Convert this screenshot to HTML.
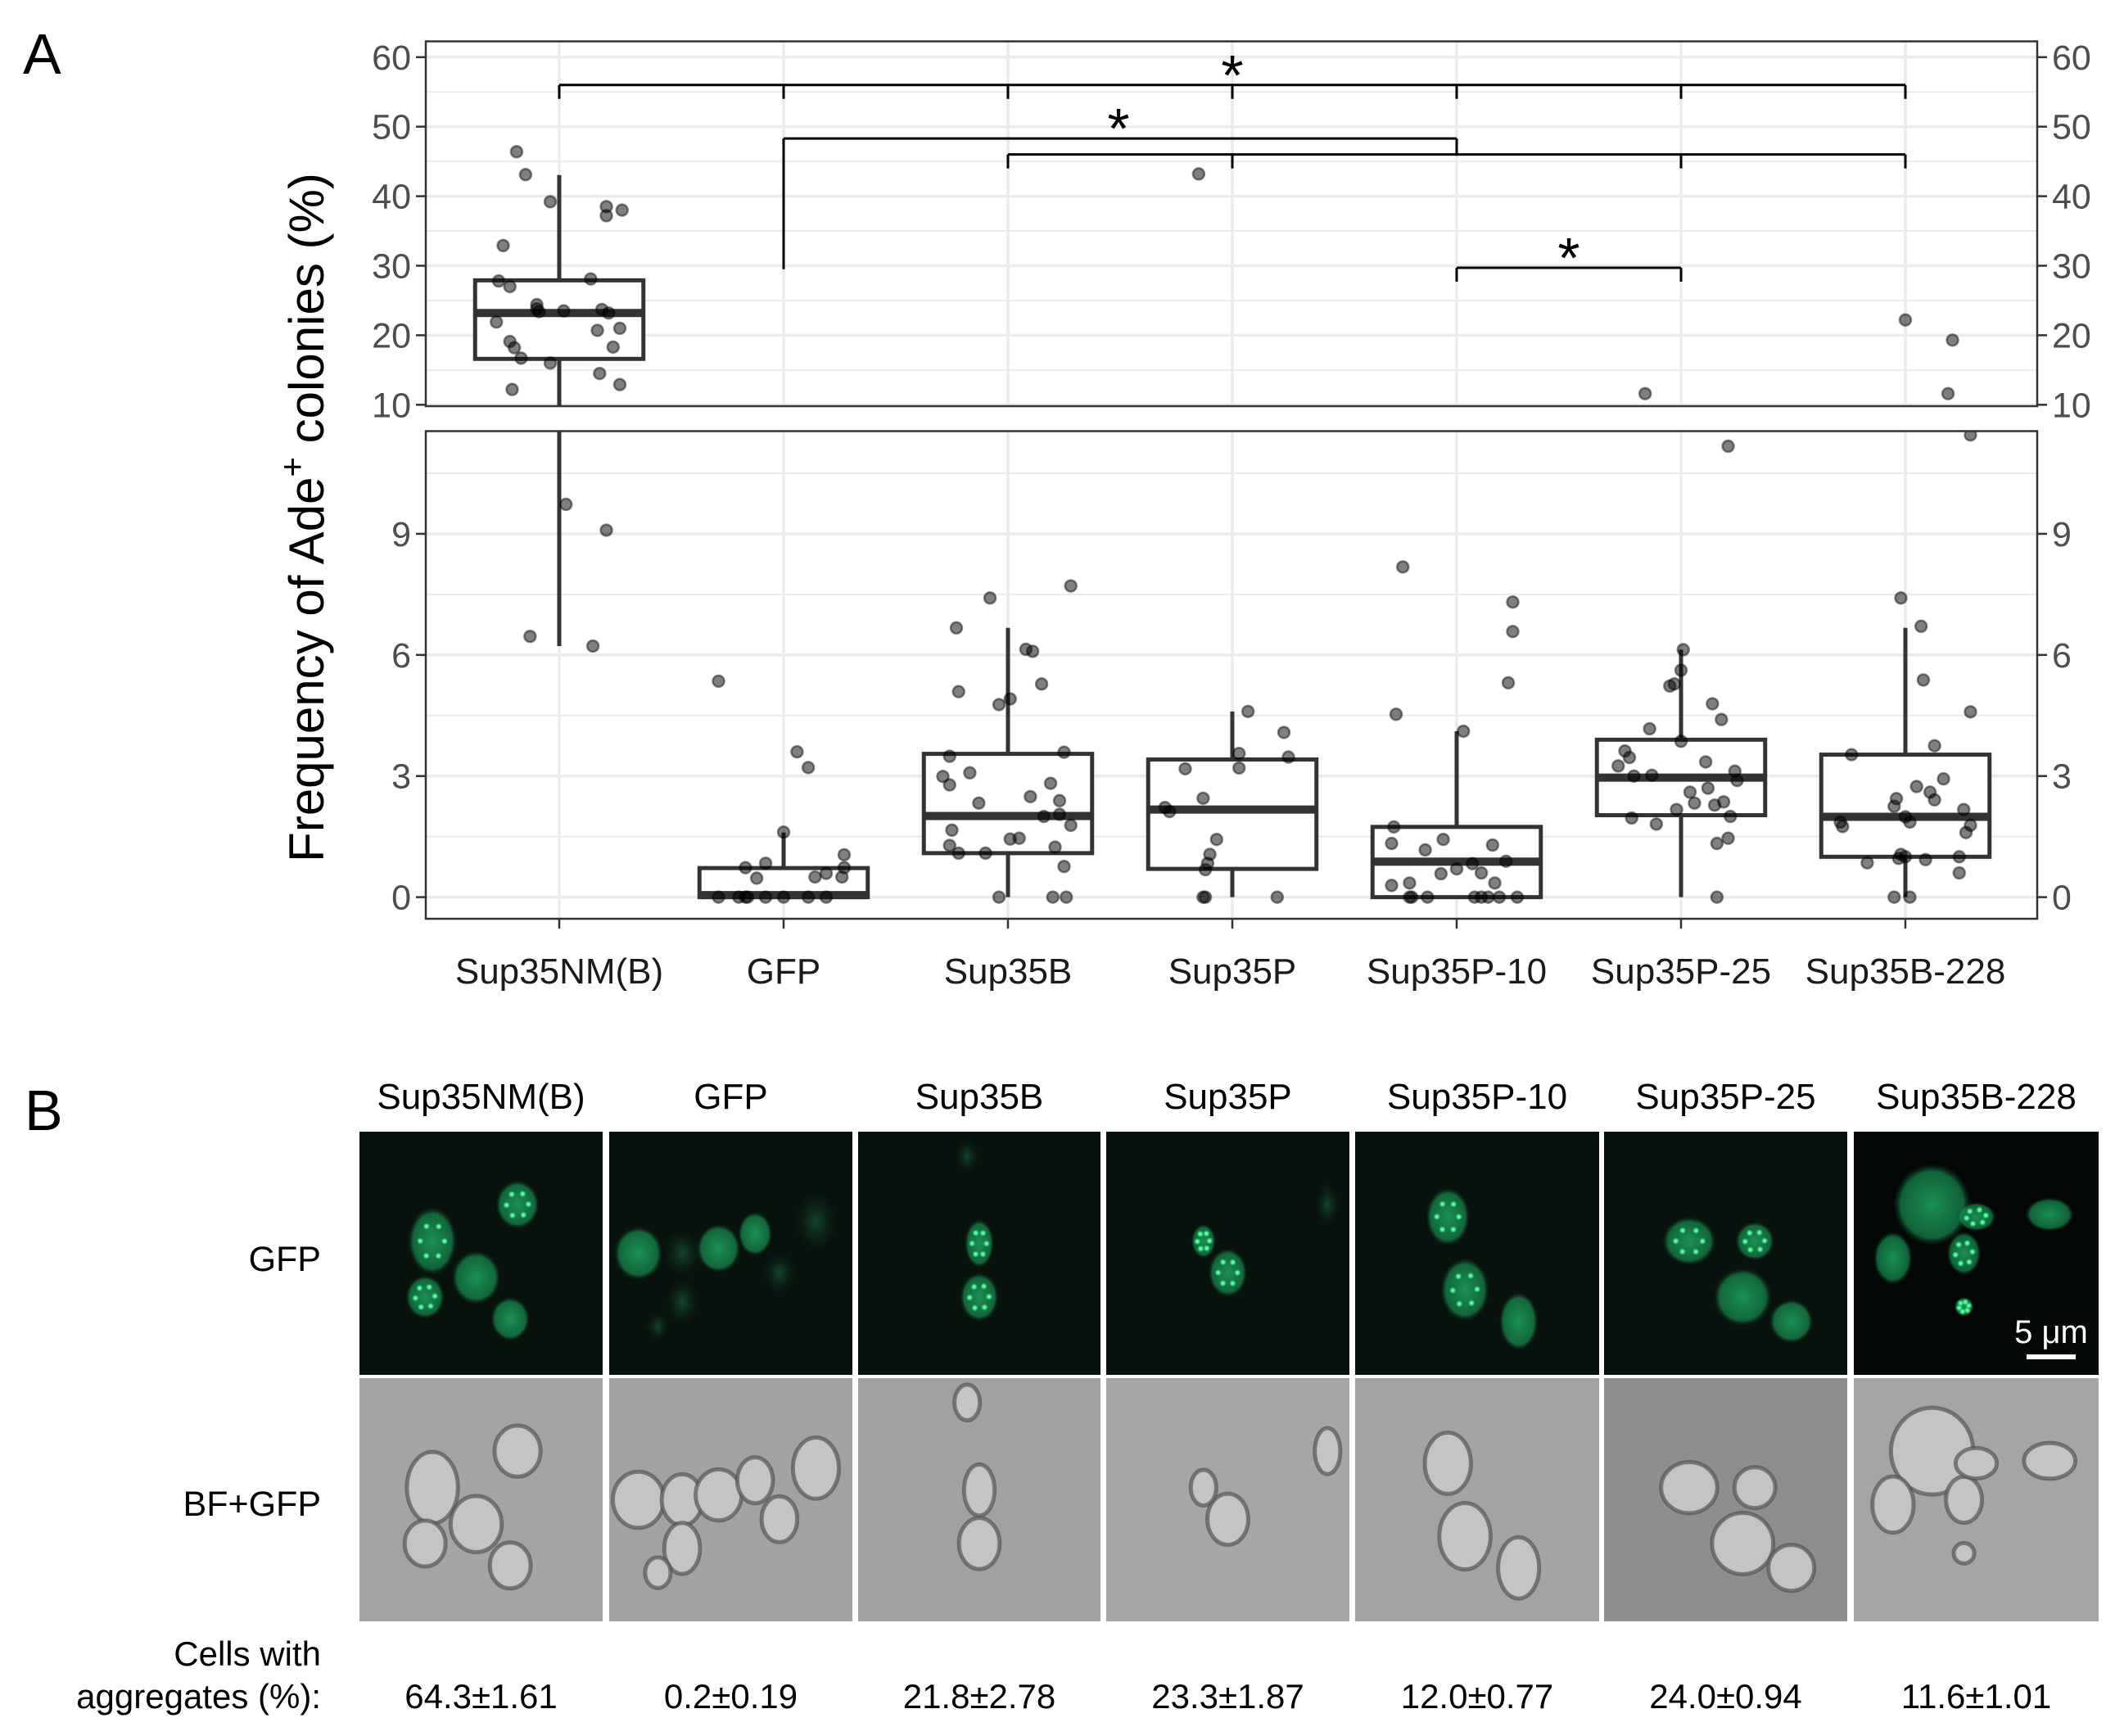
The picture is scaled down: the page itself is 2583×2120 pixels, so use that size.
<!DOCTYPE html>
<html><head><meta charset="utf-8"><title>Ade+ frequency and aggregates</title>
<style>
html,body{margin:0;padding:0;background:#fff;}
svg{display:block;font-family:"Liberation Sans",Arial,sans-serif;}
</style></head>
<body>
<svg id="fig" width="2583" height="2120" viewBox="0 0 2583 2120" xmlns="http://www.w3.org/2000/svg">
<defs>
<clipPath id="clipTop"><rect x="520" y="50.5" width="1968" height="445.5"/></clipPath>
<clipPath id="clipBot"><rect x="520" y="526.5" width="1968" height="595.5"/></clipPath>
<radialGradient id="gfpCell" cx="50%" cy="50%" r="50%"><stop offset="0" stop-color="#1fa862" stop-opacity="0.85"/><stop offset="0.8" stop-color="#178a4c" stop-opacity="0.7"/><stop offset="1" stop-color="#0b3a22" stop-opacity="0"/></radialGradient>
<radialGradient id="gfpDim" cx="50%" cy="50%" r="50%"><stop offset="0" stop-color="#175c38" stop-opacity="0.7"/><stop offset="1" stop-color="#0b2a1a" stop-opacity="0"/></radialGradient>
<radialGradient id="gfpDot" cx="50%" cy="50%" r="50%"><stop offset="0" stop-color="#8dffc0"/><stop offset="0.5" stop-color="#3fe08a"/><stop offset="1" stop-color="#1a9a55" stop-opacity="0"/></radialGradient>
</defs>
<text x="28" y="90" font-size="70" fill="#000">A</text>
<text x="30" y="1380" font-size="70" fill="#000">B</text>
<g id="chart"></g>
<g id="micro"></g>
</svg>
<script>
// ---------- chart data ----------
const categories = ["Sup35NM(B)","GFP","Sup35B","Sup35P","Sup35P-10","Sup35P-25","Sup35B-228"];
const topTicks = [10,20,30,40,50,60];
const bottomTicks = [0,3,6,9];
// box stats: [lowerWhisker, q1, median, q3, upperWhisker]
const boxNM   = [6.22,16.6,23.2,27.9,43.05];
const boxGFP  = [0,0,0.05,0.72,1.6];
const boxB    = [0,1.09,2.01,3.55,6.67];
const boxP    = [0,0.7,2.17,3.41,4.6];
const boxP10  = [0,0,0.88,1.74,4.11];
const boxP25  = [0,2.03,2.96,3.9,6.13];
const boxB228 = [0,1.0,1.99,3.53,6.67];
// points: values and jitter (category-width fraction)
const valNM = [46.4,43.1,39.2,38.5,37.2,38.0,32.9,27.8,27.0,28.1,24.4,23.8,23.4,23.5,23.7,23.2,21.9,20.7,21.0,19.1,18.2,16.7,16.0,18.3,14.5,12.9,12.2,9.73,9.09,6.46,6.22];
const jitNM = [-0.19,-0.15,-0.04,0.21,0.21,0.28,-0.25,-0.27,-0.22,0.14,-0.10,-0.10,-0.09,0.02,0.19,0.22,-0.28,0.17,0.27,-0.22,-0.2,-0.17,-0.04,0.24,0.18,0.27,-0.21,0.03,0.21,-0.13,0.15];
const valGFP = [5.35,3.6,3.21,1.61,0.73,0.84,0.47,1.05,0.73,0.59,0.5,0.5,0,0,0,0,0,0,0,0];
const jitGFP = [-0.29,0.06,0.11,0,-0.17,-0.08,-0.12,0.27,0.27,0.19,0.14,0.26,-0.29,-0.2,-0.17,-0.16,-0.08,0,0.11,0.19];
const valB = [7.41,6.67,7.71,6.14,6.09,5.28,5.09,4.91,4.77,3.49,3.59,2.99,3.08,2.78,2.82,2.49,2.39,2.33,2.0,2.05,1.78,1.66,1.44,1.46,1.28,1.09,1.09,1.24,0.76,0,0,0];
const jitB = [-0.08,-0.23,0.28,0.08,0.11,0.15,-0.22,0.01,-0.04,-0.26,0.25,-0.29,-0.17,-0.26,0.19,0.1,0.23,-0.13,0.16,0.23,0.28,-0.25,0.01,0.05,-0.26,-0.22,-0.1,0.21,0.25,-0.04,0.2,0.26];
const valP = [43.2,4.6,4.08,3.56,3.47,3.18,3.2,2.45,2.22,2.12,1.43,1.06,0.84,0.68,0,0,0];
const jitP = [-0.15,0.07,0.23,0.03,0.25,-0.21,0.03,-0.13,-0.3,-0.28,-0.07,-0.1,-0.11,-0.12,-0.13,-0.12,0.2];
const valP10 = [8.18,7.31,6.58,5.31,4.53,4.11,1.74,1.33,1.17,1.43,1.29,0.89,0.83,0.7,0.58,0.6,0.35,0.35,0.29,0,0,0,0,0,0,0,0];
const jitP10 = [-0.24,0.25,0.25,0.23,-0.27,0.03,-0.28,-0.29,-0.14,-0.06,0.16,0.22,0.07,0,-0.07,0.11,0.17,-0.21,-0.29,-0.21,-0.2,-0.13,0.08,0.11,0.14,0.19,0.27];
const valP25 = [11.6,11.17,6.13,5.62,5.23,5.28,4.79,4.4,4.17,3.86,3.62,3.46,3.25,3.35,3.12,3.0,3.02,2.89,2.6,2.7,2.33,2.28,2.36,2.17,2.0,1.96,1.81,1.46,1.33,0];
const jitP25 = [-0.16,0.21,0.01,0,-0.05,-0.03,0.14,0.18,-0.14,0,-0.25,-0.23,-0.28,0.11,0.24,-0.21,-0.13,0.25,0.04,0.12,0.06,0.15,0.19,-0.02,0.22,-0.22,-0.11,0.21,0.16,0.16];
const valB228 = [22.2,19.3,11.6,11.45,7.41,6.71,5.38,4.59,3.75,3.53,2.93,2.74,2.6,2.41,2.44,2.25,2.17,1.99,1.86,1.86,1.75,1.78,1.6,1.06,1.0,0.96,0.85,0.93,1.0,0.6,0,0];
const jitB228 = [0,0.21,0.19,0.29,-0.02,0.07,0.08,0.29,0.13,-0.24,0.17,0.05,0.11,0.13,-0.04,-0.05,0.26,0,0.02,-0.29,-0.28,0.29,0.27,-0.02,0,-0.03,-0.17,0.09,0.24,0.24,-0.05,0.02];
// significance brackets: [fromIndex, toIndex, barValue]
const sigBars = [[0,6,56],[1,4,48.3],[2,6,46],[4,5,29.7]];
const aggLabels = ["64.3±1.61","0.2±0.19","21.8±2.78","23.3±1.87","12.0±0.77","24.0±0.94","11.6±1.01"];

// ---------- scales ----------
const NS = "http://www.w3.org/2000/svg";
const X0 = 683, STEP = 274, LEFT = 520, RIGHT = 2488;
const BREAK = 11.55;
function xScale(i){ return X0 + STEP*i; }
function yTop(v){ return 494.3 - (v-10)*8.49; }
function yBot(v){ return 1095.6 - v*49.3; }
function el(tag, attrs, parent){ const e=document.createElementNS(NS,tag); for(const k in attrs) e.setAttribute(k,attrs[k]); parent.appendChild(e); return e; }

const chart = document.getElementById('chart');
const panels = [
  {y0:50.5,y1:496,ys:yTop,clip:'clipTop',major:topTicks,minor:[15,25,35,45,55],name:'top-panel',isTop:true},
  {y0:526.5,y1:1122,ys:yBot,clip:'clipBot',major:bottomTicks,minor:[1.5,4.5,7.5,10.5],name:'bottom-panel',isTop:false}
];
const boxes=[boxNM,boxGFP,boxB,boxP,boxP10,boxP25,boxB228];
const vals=[valNM,valGFP,valB,valP,valP10,valP25,valB228];
const jits=[jitNM,jitGFP,jitB,jitP,jitP10,jitP25,jitB228];

panels.forEach(function(p){
  const g = el('g',{'clip-path':'url(#'+p.clip+')'},chart);
  
  
  p.minor.forEach(function(v){ const l=el('line',{x1:LEFT,x2:RIGHT,y1:p.ys(v),y2:p.ys(v),stroke:'#ebebeb','stroke-width':2},g);
      });
  p.major.forEach(function(v){ const l=el('line',{x1:LEFT,x2:RIGHT,y1:p.ys(v),y2:p.ys(v),stroke:'#ebebeb','stroke-width':3.5},g);
      });
  categories.forEach(function(c,i){ const l=el('line',{x1:xScale(i),x2:xScale(i),y1:p.y0,y2:p.y1,stroke:'#ebebeb','stroke-width':3.5},g);
      });
  boxes.forEach(function(b,i){
    const cx=xScale(i), hw=STEP*0.375;
    const bg=el('g',{},g);
    
    
    el('line',{x1:cx,x2:cx,y1:p.ys(b[3]),y2:p.ys(b[4]),stroke:'#333','stroke-width':5},bg);
    el('line',{x1:cx,x2:cx,y1:p.ys(b[1]),y2:p.ys(b[0]),stroke:'#333','stroke-width':5},bg);
    el('rect',{x:cx-hw,y:p.ys(b[3]),width:2*hw,height:Math.max(0,p.ys(b[1])-p.ys(b[3])),fill:'#fff',stroke:'#333','stroke-width':5},bg);
    el('line',{x1:cx-hw,x2:cx+hw,y1:p.ys(b[2]),y2:p.ys(b[2]),stroke:'#333','stroke-width':10},bg);
  });
  vals.forEach(function(vs,i){
    vs.forEach(function(v,k){
      if(p.isTop && v < BREAK) return;
      if(!p.isTop && v >= BREAK) return;
      const c=el('circle',{cx:xScale(i)+jits[i][k]*STEP,cy:p.ys(v),r:7,fill:'rgba(0,0,0,0.5)',stroke:'rgba(0,0,0,0.45)','stroke-width':2.5},g);
      
      
    });
  });
  const br=el('rect',{x:LEFT,y:p.y0,width:RIGHT-LEFT,height:p.y1-p.y0,fill:'none',stroke:'#333','stroke-width':2.5},chart);
  
  
  p.major.forEach(function(v){
    const y=p.ys(v);
    el('line',{x1:LEFT-12,x2:LEFT,y1:y,y2:y,stroke:'#333','stroke-width':2.5},chart);
    el('line',{x1:RIGHT,x2:RIGHT+12,y1:y,y2:y,stroke:'#333','stroke-width':2.5},chart);
    const t1=el('text',{x:LEFT-18,y:y+15,'text-anchor':'end','font-size':43,fill:'#4d4d4d'},chart); t1.textContent=v;
     
    const t2=el('text',{x:RIGHT+18,y:y+15,'text-anchor':'start','font-size':43,fill:'#4d4d4d'},chart); t2.textContent=v;
     
  });
});
categories.forEach(function(c,i){
  el('line',{x1:xScale(i),x2:xScale(i),y1:1122,y2:1134,stroke:'#333','stroke-width':2.5},chart);
  const t=el('text',{x:xScale(i),y:1201,'text-anchor':'middle','font-size':44,fill:'#1a1a1a'},chart); t.textContent=c;
   
});
const yt=el('text',{x:0,y:0,transform:'translate(395,632) rotate(-90)','text-anchor':'middle','font-size':60,fill:'#000'},chart);
 
yt.innerHTML='Frequency of Ade<tspan dy="-24" font-size="42">+</tspan><tspan dy="24"> colonies (%)</tspan>';
const sg=el('g',{stroke:'#000','stroke-width':3,fill:'none'},chart);
 
sigBars.forEach(function(s){
  const y=yTop(s[2]);
  el('line',{x1:xScale(s[0]),x2:xScale(s[1]),y1:y,y2:y},sg);
});
for(let i=0;i<=6;i++){ el('line',{x1:xScale(i),x2:xScale(i),y1:yTop(56),y2:yTop(54)},sg); }
el('line',{x1:xScale(1),x2:xScale(1),y1:yTop(48.3),y2:yTop(29.5)},sg);
el('line',{x1:xScale(4),x2:xScale(4),y1:yTop(48.3),y2:yTop(46)},sg);
[2,3,5,6].forEach(function(i){ el('line',{x1:xScale(i),x2:xScale(i),y1:yTop(46),y2:yTop(44)},sg); });
el('line',{x1:xScale(4),x2:xScale(4),y1:yTop(29.7),y2:yTop(27.7)},sg);
el('line',{x1:xScale(5),x2:xScale(5),y1:yTop(29.7),y2:yTop(27.7)},sg);
[[xScale(3),56],[1366,48.3],[(xScale(4)+xScale(5))/2,29.7]].forEach(function(s){
  const t=el('text',{x:s[0],y:yTop(s[1])+12,'text-anchor':'middle','font-size':70,fill:'#000'},chart); t.textContent='*';
   
});

// ---------- Panel B ----------
const micro=document.getElementById('micro');
const colX=[439,744,1048,1351,1655,1959,2264];
const colW=[297,297,296,297,298,297,299];
const R1=1382,R2=1683,H=297;
const colCenters=colX.map(function(x,i){return x+colW[i]/2;});
categories.forEach(function(c,i){
  const t=el('text',{x:colCenters[i],y:1354,'text-anchor':'middle','font-size':44,fill:'#000'},micro); t.textContent=c;
   
  const v=el('text',{x:colCenters[i],y:2086,'text-anchor':'middle','font-size':42,fill:'#000'},micro); v.textContent=aggLabels[i];
   
});
[['GFP',R1+170],['BF+GFP',R2+168]].forEach(function(r){
  const t=el('text',{x:392,y:r[1],'text-anchor':'end','font-size':43,fill:'#000'},micro); t.textContent=r[0];
   
});
const c1=el('text',{x:392,y:2034,'text-anchor':'end','font-size':42,fill:'#000'},micro); c1.textContent='Cells with';
 
const c2=el('text',{x:392,y:2086,'text-anchor':'end','font-size':42,fill:'#000'},micro); c2.textContent='aggregates (%):';
 

const cellSets=[
 [[0.3,0.45,0.1,0.14,2],[0.65,0.3,0.09,0.1,2],[0.27,0.68,0.08,0.09,2],[0.48,0.6,0.1,0.11,0],[0.62,0.77,0.08,0.09,0]],
 [[0.12,0.5,0.1,0.11,0],[0.3,0.5,0.08,0.1,1],[0.45,0.48,0.09,0.1,0],[0.6,0.42,0.07,0.09,0],[0.85,0.37,0.09,0.12,1],[0.3,0.7,0.07,0.1,1],[0.7,0.58,0.07,0.09,1],[0.2,0.8,0.05,0.06,1]],
 [[0.5,0.46,0.06,0.1,2],[0.5,0.68,0.08,0.1,2],[0.45,0.1,0.05,0.07,1]],
 [[0.5,0.58,0.08,0.1,2],[0.4,0.45,0.05,0.07,2],[0.91,0.3,0.05,0.09,1]],
 [[0.38,0.35,0.09,0.12,2],[0.45,0.65,0.1,0.13,2],[0.67,0.78,0.08,0.12,0]],
 [[0.35,0.45,0.11,0.1,2],[0.62,0.45,0.08,0.08,2],[0.57,0.68,0.12,0.12,0],[0.77,0.78,0.09,0.09,0]],
 [[0.32,0.3,0.16,0.17,0],[0.8,0.34,0.1,0.07,0],[0.16,0.52,0.08,0.11,0],[0.45,0.5,0.07,0.09,2],[0.5,0.35,0.08,0.06,2],[0.45,0.72,0.04,0.04,2]]
];
const bfBg=['#a4a4a4','#a2a2a2','#a1a1a1','#a6a6a6','#a3a3a3','#8e8e8e','#a5a5a5'];
colX.forEach(function(x,i){
  const w=colW[i];
  const g1=el('g',{},micro);
   
  el('rect',{x:x,y:R1,width:w,height:H,fill: i===6?'#030706':'#09130e'},g1);
  const g2=el('g',{},micro);
   
  el('rect',{x:x,y:R2,width:w,height:H,fill:bfBg[i]},g2);
  cellSets[i].forEach(function(c,k){
    const cx=x+c[0]*w, cy=R1+c[1]*H, rx=c[2]*w, ry=c[3]*H;
    el('ellipse',{cx:cx,cy:cy,rx:rx,ry:ry,fill: c[4]===1?'url(#gfpDim)':'url(#gfpCell)'},g1);
    if(c[4]===2){
      for(let d=0; d<6; d++){
        const a=d*1.05+k;
        el('circle',{cx:cx+Math.cos(a)*rx*0.5,cy:cy+Math.sin(a)*ry*0.5,r:4.5,fill:'url(#gfpDot)'},g1);
      }
    }
    const by=R2+c[1]*H;
    el('ellipse',{cx:cx,cy:by,rx:rx*1.05,ry:ry*1.05,fill:'#c4c4c4',stroke:'#555','stroke-width':5,'stroke-opacity':0.7},g2);
  });
});
const sb=el('text',{x:2505,y:1640,'text-anchor':'middle','font-size':40,fill:'#fff'},micro); sb.textContent='5 μm';
 
const sbl=el('rect',{x:2475,y:1654,width:60,height:6,fill:'#fff'},micro);
 
</script>
</body></html>
